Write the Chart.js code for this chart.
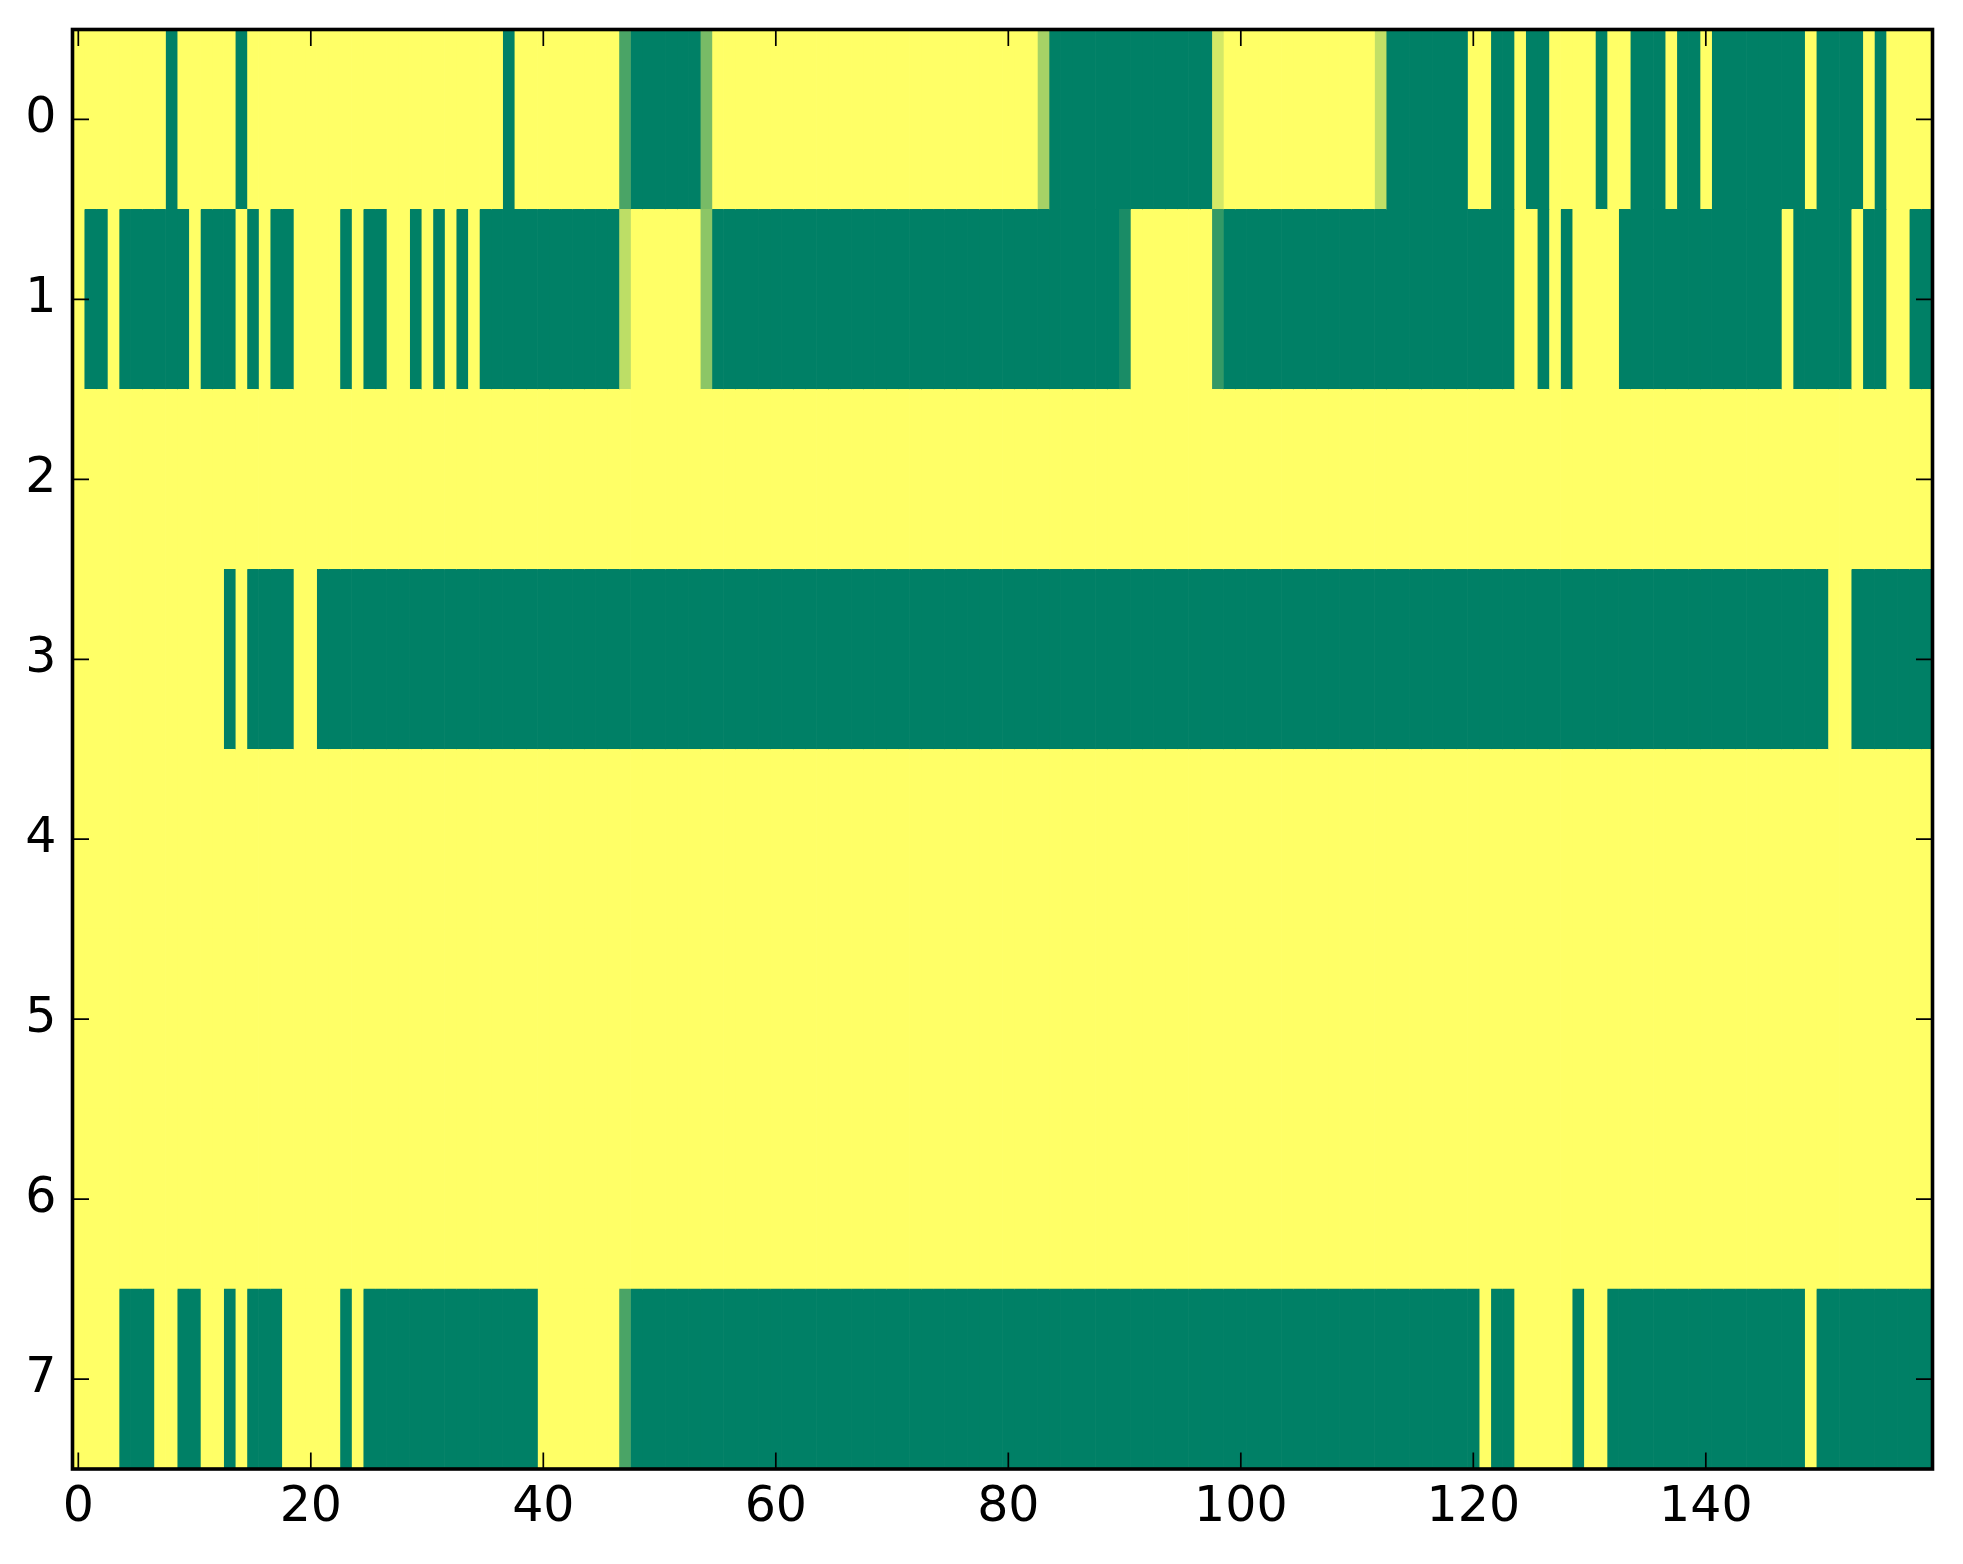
<!DOCTYPE html>
<html>
<head>
<meta charset="utf-8">
<script src="https://cdn.jsdelivr.net/npm/chart.js@4.4.1/dist/chart.umd.min.js"></script>
<style>
  html, body { margin: 0; padding: 0; background: #ffffff; }
  #wrap { width: 1963px; height: 1564px; position: relative; }
</style>
</head>
<body>
<div id="wrap"><canvas id="c" width="1963" height="1564"></canvas></div>
<script>
// ---- data: 8 rows x 160 columns, values in [0,1] (summer colormap) ----
const rowLabels = ['0', '1', '2', '3', '4', '5', '6', '7'];
const xTickValues = [0, 20, 40, 60, 80, 100, 120, 140];

const row0 = [
  1,1,1,1,1,1,1,1,0,1, 1,1,1,1,0,1,1,1,1,1,
  1,1,1,1,1,1,1,1,1,1, 1,1,1,1,1,1,1,0,1,1,
  1,1,1,1,1,1,1,0.29,0,0, 0,0,0,0,0.47,1,1,1,1,1,
  1,1,1,1,1,1,1,1,1,1, 1,1,1,1,1,1,1,1,1,1,
  1,1,1,0.65,0,0,0,0,0,0, 0,0,0,0,0,0,0,0,0.83,1,
  1,1,1,1,1,1,1,1,1,1, 1,1,0.76,0,0,0,0,0,0,0,
  1,1,0,0,1,0,0,1,1,1, 1,0,1,1,0,0,0,1,0,0,
  1,0,0,0,0,0,0,0,0,1, 0,0,0,0,1,0,1,1,1,1
];
const row1 = [
  1,0,0,1,0,0,0,0,0,0, 1,0,0,0,1,0,1,0,0,1,
  1,1,1,0,1,0,0,1,1,0, 1,0,1,0,1,0,0,0,0,0,
  0,0,0,0,0,0,0,0.74,1,1, 1,1,1,1,0.55,0,0,0,0,0,
  0,0,0,0,0,0,0,0,0,0, 0,0,0,0,0,0,0,0,0,0,
  0,0,0,0,0,0,0,0,0,0, 0.10,1,1,1,1,1,1,1,0.20,0,
  0,0,0,0,0,0,0,0,0,0, 0,0,0,0,0,0,0,0,0,0,
  0,0,0,0,1,1,0,1,0,1, 1,1,1,0,0,0,0,0,0,0,
  0,0,0,0,0,0,0,1,0,0, 0,0,0,1,0,0,1,1,0,0
];
const row2 = [
  1,1,1,1,1,1,1,1,1,1, 1,1,1,1,1,1,1,1,1,1,
  1,1,1,1,1,1,1,1,1,1, 1,1,1,1,1,1,1,1,1,1,
  1,1,1,1,1,1,1,1,1,1, 1,1,1,1,1,1,1,1,1,1,
  1,1,1,1,1,1,1,1,1,1, 1,1,1,1,1,1,1,1,1,1,
  1,1,1,1,1,1,1,1,1,1, 1,1,1,1,1,1,1,1,1,1,
  1,1,1,1,1,1,1,1,1,1, 1,1,1,1,1,1,1,1,1,1,
  1,1,1,1,1,1,1,1,1,1, 1,1,1,1,1,1,1,1,1,1,
  1,1,1,1,1,1,1,1,1,1, 1,1,1,1,1,1,1,1,1,1
];
const row3 = [
  1,1,1,1,1,1,1,1,1,1, 1,1,1,0,1,0,0,0,0,1,
  1,0,0,0,0,0,0,0,0,0, 0,0,0,0,0,0,0,0,0,0,
  0,0,0,0,0,0,0,0,0,0, 0,0,0,0,0,0,0,0,0,0,
  0,0,0,0,0,0,0,0,0,0, 0,0,0,0,0,0,0,0,0,0,
  0,0,0,0,0,0,0,0,0,0, 0,0,0,0,0,0,0,0,0,0,
  0,0,0,0,0,0,0,0,0,0, 0,0,0,0,0,0,0,0,0,0,
  0,0,0,0,0,0,0,0,0,0, 0,0,0,0,0,0,0,0,0,0,
  0,0,0,0,0,0,0,0,0,0, 0,1,1,0,0,0,0,0,0,0
];
const row4 = [
  1,1,1,1,1,1,1,1,1,1, 1,1,1,1,1,1,1,1,1,1,
  1,1,1,1,1,1,1,1,1,1, 1,1,1,1,1,1,1,1,1,1,
  1,1,1,1,1,1,1,1,1,1, 1,1,1,1,1,1,1,1,1,1,
  1,1,1,1,1,1,1,1,1,1, 1,1,1,1,1,1,1,1,1,1,
  1,1,1,1,1,1,1,1,1,1, 1,1,1,1,1,1,1,1,1,1,
  1,1,1,1,1,1,1,1,1,1, 1,1,1,1,1,1,1,1,1,1,
  1,1,1,1,1,1,1,1,1,1, 1,1,1,1,1,1,1,1,1,1,
  1,1,1,1,1,1,1,1,1,1, 1,1,1,1,1,1,1,1,1,1
];
const row5 = [
  1,1,1,1,1,1,1,1,1,1, 1,1,1,1,1,1,1,1,1,1,
  1,1,1,1,1,1,1,1,1,1, 1,1,1,1,1,1,1,1,1,1,
  1,1,1,1,1,1,1,1,1,1, 1,1,1,1,1,1,1,1,1,1,
  1,1,1,1,1,1,1,1,1,1, 1,1,1,1,1,1,1,1,1,1,
  1,1,1,1,1,1,1,1,1,1, 1,1,1,1,1,1,1,1,1,1,
  1,1,1,1,1,1,1,1,1,1, 1,1,1,1,1,1,1,1,1,1,
  1,1,1,1,1,1,1,1,1,1, 1,1,1,1,1,1,1,1,1,1,
  1,1,1,1,1,1,1,1,1,1, 1,1,1,1,1,1,1,1,1,1
];
const row6 = [
  1,1,1,1,1,1,1,1,1,1, 1,1,1,1,1,1,1,1,1,1,
  1,1,1,1,1,1,1,1,1,1, 1,1,1,1,1,1,1,1,1,1,
  1,1,1,1,1,1,1,1,1,1, 1,1,1,1,1,1,1,1,1,1,
  1,1,1,1,1,1,1,1,1,1, 1,1,1,1,1,1,1,1,1,1,
  1,1,1,1,1,1,1,1,1,1, 1,1,1,1,1,1,1,1,1,1,
  1,1,1,1,1,1,1,1,1,1, 1,1,1,1,1,1,1,1,1,1,
  1,1,1,1,1,1,1,1,1,1, 1,1,1,1,1,1,1,1,1,1,
  1,1,1,1,1,1,1,1,1,1, 1,1,1,1,1,1,1,1,1,1
];
const row7 = [
  1,1,1,1,0,0,0,1,1,0, 0,1,1,0,1,0,0,0,1,1,
  1,1,1,0,1,0,0,0,0,0, 0,0,0,0,0,0,0,0,0,0,
  1,1,1,1,1,1,1,0.29,0,0, 0,0,0,0,0,0,0,0,0,0,
  0,0,0,0,0,0,0,0,0,0, 0,0,0,0,0,0,0,0,0,0,
  0,0,0,0,0,0,0,0,0,0, 0,0,0,0,0,0,0,0,0,0,
  0,0,0,0,0,0,0,0,0,0, 0,0,0,0,0,0,0,0,0,0,
  0,1,0,0,1,1,1,1,1,0, 1,1,0,0,0,0,0,0,0,0,
  0,0,0,0,0,0,0,0,0,1, 0,0,0,0,0,0,0,0,0,0
];

const rows = [row0, row1, row2, row3, row4, row5, row6, row7];

// matplotlib "summer" colormap
function summer(v) {
  const r = Math.round(255 * v);
  const g = Math.round(255 * (0.5 + 0.5 * v));
  return 'rgb(' + r + ',' + g + ',102)';
}

// one dataset per matrix column; each bar spans its column cell in x
const nCols = row0.length;
const datasets = [];
for (let c = 0; c < nCols; c++) {
  datasets.push({
    data: rows.map(() => [c - 0.5, c + 0.5]),
    backgroundColor: rows.map(r => summer(r[c])),
    borderWidth: 0,
    grouped: false,
    barPercentage: 1,
    categoryPercentage: 1
  });
}

const FONT = { family: '"DejaVu Sans", sans-serif', size: 49 };

const framePlugin = {
  id: 'frameTicks',
  afterDraw(chart) {
    const ctx = chart.ctx;
    const a = chart.chartArea;
    const xs = chart.scales.x, ys = chart.scales.y;
    const L = 16.5;
    ctx.save();
    ctx.strokeStyle = '#000';
    ctx.lineWidth = 1.7;
    ctx.beginPath();
    xs.ticks.forEach((t, i) => {
      const px = xs.getPixelForTick(i);
      ctx.moveTo(px, a.bottom); ctx.lineTo(px, a.bottom - L);
      ctx.moveTo(px, a.top); ctx.lineTo(px, a.top + L);
    });
    ys.ticks.forEach((t, i) => {
      const py = ys.getPixelForTick(i);
      ctx.moveTo(a.left, py); ctx.lineTo(a.left + L, py);
      ctx.moveTo(a.right, py); ctx.lineTo(a.right - L, py);
    });
    ctx.stroke();
    ctx.lineWidth = 3.6;
    ctx.strokeRect(a.left, a.top, a.right - a.left, a.bottom - a.top);
    ctx.restore();
  }
};

new Chart(document.getElementById('c'), {
  type: 'bar',
  data: { labels: rowLabels, datasets: datasets },
  options: {
    indexAxis: 'y',
    responsive: false,
    devicePixelRatio: 1,
    animation: false,
    layout: { padding: { top: 29.5, right: 30.5, left: 0, bottom: 0 } },
    plugins: { legend: { display: false }, tooltip: { enabled: false } },
    scales: {
      x: {
        type: 'linear',
        min: -0.5,
        max: nCols - 0.5,
        afterBuildTicks: s => { s.ticks = xTickValues.map(v => ({ value: v })); },
        afterFit: s => { s.height = 95; s.paddingLeft = 0; s.paddingRight = 0; },
        grid: { display: false, drawTicks: false, tickLength: 0 },
        border: { display: false },
        ticks: { font: FONT, color: '#000', padding: 10, maxRotation: 0, autoSkip: false }
      },
      y: {
        type: 'category',
        afterFit: s => { s.width = 72.5; s.paddingTop = 0; s.paddingBottom = 0; },
        grid: { display: false, drawTicks: false, tickLength: 0 },
        border: { display: false },
        ticks: { font: FONT, color: '#000', padding: 16, autoSkip: false }
      }
    }
  },
  plugins: [framePlugin]
});
</script>
</body>
</html>
